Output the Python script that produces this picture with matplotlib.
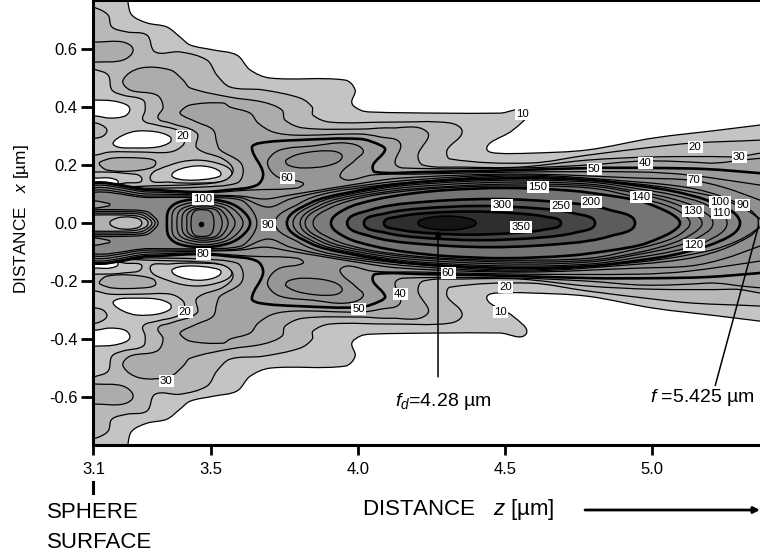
import numpy as np
import matplotlib
matplotlib.use('Agg')
import matplotlib.pyplot as plt
from matplotlib.path import Path
from matplotlib.patches import PathPatch

plt.rcParams['font.family'] = ['Liberation Sans', 'DejaVu Sans']
plt.rcParams['mathtext.fontset'] = 'custom'
plt.rcParams['mathtext.rm'] = 'Liberation Sans'
plt.rcParams['mathtext.it'] = 'Liberation Sans:italic'

# contours, (z, x) in um, upper half only (map is symmetric about x=0)
level_10 = [(3.0, .85), (3.21, .85), (3.218, .759), (3.231, .717), (3.282, .690), (3.350, .676), (3.395, .641),
            (3.429, .614), (3.507, .597), (3.588, .579), (3.633, .528), (3.701, .5), (3.956, .493), (3.990, .459),
            (3.979, .414), (4.007, .390), (4.041, .383), (4.279, .379), (4.483, .379), (4.571, .383), (4.527, .321),
            (4.449, .276), (4.439, .252), (4.473, .241), (4.585, .241), (4.779, .252), (5.003, .293), (5.231, .321),
            (5.367, .338), (5.47, .35)]
level_20 = [(3.05, .75), (3.109, .741), (3.150, .717), (3.163, .676), (3.214, .659), (3.282, .648), (3.310, .590),
            (3.395, .590), (3.486, .562), (3.520, .510), (3.565, .469), (3.677, .459), (3.803, .431), (3.844, .400),
            (3.847, .372), (3.905, .348), (4.109, .348), (4.313, .345), (4.354, .314), (4.303, .252), (4.313, .221),
            (4.585, .207), (4.779, .234), (5.003, .262), (5.139, .276), (5.367, .286), (5.47, .293)]
level_30 = [(3.05, .121), (3.109, .121), (3.29, .128), (3.463, .134), (3.548, .148), (3.575, .183), (3.541, .221),
            (3.452, .259), (3.452, .31), (3.361, .345), (3.320, .362), (3.337, .4), (3.316, .441), (3.224, .459),
            (3.201, .493), (3.259, .534), (3.361, .528), (3.405, .493), (3.429, .466), (3.565, .434), (3.677, .417),
            (3.741, .390), (3.752, .355), (3.813, .328), (4.007, .324), (4.109, .328), (4.235, .314), (4.204, .234),
            (4.221, .2), (4.357, .193), (4.551, .193), (4.779, .217), (5.003, .228), (5.275, .228), (5.469, .217)]
level_40 = [(3.05, .117), (3.29, .12), (3.463, .124), (3.588, .138), (3.609, .172), (3.599, .21), (3.531, .252),
            (3.520, .276), (3.507, .321), (3.452, .348), (3.401, .372), (3.395, .383), (3.429, .407), (3.541, .414),
            (3.565, .4), (3.633, .379), (3.660, .345), (3.711, .314), (3.793, .303), (4.007, .307), (4.075, .297),
            (4.143, .276), (4.126, .207), (4.153, .19), (4.551, .19), (4.779, .2), (4.976, .214), (5.187, .207),
            (5.469, .183)]
level_50 = [(3.05, .114), (3.29, .114), (3.463, .107), (3.554, .114), (3.656, .131), (3.677, .172), (3.639, .259),
            (3.667, .276), (3.793, .286), (4.007, .29), (4.075, .269), (4.092, .252), (4.051, .2), (4.058, .176),
            (4.221, .176), (4.551, .183), (4.799, .19), (5.003, .19), (5.187, .186), (5.367, .172), (5.47, .162)]
level_60 = [(3.05, .107), (3.29, .107), (3.463, .103), (3.633, .114), (3.793, .121), (3.813, .138), (3.735, .155),
            (3.701, .183), (3.694, .217), (3.735, .252), (3.847, .266), (3.956, .276), (4.017, .252), (3.990, .217),
            (3.939, .166), (3.966, .148), (4.051, .166), (4.221, .169), (4.551, .176), (4.959, .176), (5.122, .166),
            (5.367, .131), (5.47, .114)]
level_70 = [(3.05, .1), (3.29, .1), (3.463, .097), (3.599, .093), (3.684, .083), (3.769, .097), (3.871, .114),
            (3.973, .131), (4.143, .155), (4.551, .169), (4.959, .155), (5.129, .148), (5.241, .124), (5.367, .079),
            (5.47, .038)]
level_80 = [(3.05, .093), (3.29, .093), (3.463, .093), (3.599, .088), (3.694, .055), (3.769, .083), (3.871, .107),
            (3.973, .124), (4.177, .148), (4.551, .166), (4.959, .141), (5.129, .121), (5.241, .09), (5.333, .045),
            (5.36, .02), (5.38, 0)]
level_90_left = [(3.05, .086), (3.29, .088), (3.473, .088), (3.599, .08), (3.639, .045), (3.656, 0)]
level_90 = [(3.718, 0), (3.803, .069), (3.871, .097), (3.973, .117), (4.177, .141), (4.551, .162), (4.959, .134),
            (5.187, .097), (5.289, .062), (5.357, .02), (5.361, 0)]
level_100 = [(3.758, 0), (3.837, .069), (3.956, .103), (4.177, .138), (4.527, .155), (4.789, .148), (4.959, .128),
             (5.071, .110), (5.187, .079), (5.275, .038), (5.299, 0)]
level_110 = [(3.779, 0), (3.854, .066), (3.973, .100), (4.177, .131), (4.517, .148), (4.789, .141), (4.959, .117),
             (5.071, .097), (5.187, .062), (5.255, 0)]
level_120 = [(3.803, 0), (3.871, .062), (3.990, .097), (4.177, .124), (4.503, .141), (4.789, .134), (4.959, .107),
             (5.071, .083), (5.153, .052), (5.207, 0)]
level_130 = [(3.820, 0), (3.888, .059), (4.007, .093), (4.177, .117), (4.493, .134), (4.789, .128), (4.959, .1),
             (5.071, .069), (5.14, .035), (5.170, 0)]
level_140 = [(3.847, 0), (3.905, .052), (4.024, .090), (4.177, .112), (4.303, .122), (4.486, .128), (4.789, .121),
             (4.959, .086), (5.051, .060), (5.10, .035), (5.129, 0)]
level_150 = [(3.908, 0), (3.956, .048), (4.051, .079), (4.167, .100), (4.303, .114), (4.500, .121), (4.721, .112),
             (4.867, .093), (4.959, .076), (5.017, .055), (5.071, .028), (5.095, 0)]
level_200 = [(3.963, 0), (4.041, .045), (4.177, .069), (4.452, .083), (4.721, .069), (4.857, .045), (4.942, 0)]
level_250 = [(4.020, 0), (4.092, .033), (4.211, .050), (4.415, .059), (4.619, .05), (4.738, .033), (4.806, 0)]
level_300 = [(4.088, 0), (4.143, .023), (4.245, .035), (4.388, .040), (4.531, .034), (4.636, .022), (4.690, 0)]
level_350 = [(4.204, 0), (4.235, .017), (4.303, .024), (4.37, .017), (4.401, 0)]

# second maximum near z=3.47
lobe_100 = [(3.350, 0), (3.356, .045), (3.39, .072), (3.473, .083), (3.56, .07), (3.61, .04), (3.633, 0)]
lobe_110 = [(3.367, 0), (3.372, .042), (3.40, .062), (3.473, .075), (3.55, .062), (3.59, .035), (3.609, 0)]
lobe_120 = [(3.384, 0), (3.39, .038), (3.415, .056), (3.473, .066), (3.54, .055), (3.568, .03), (3.582, 0)]
lobe_130 = [(3.401, 0), (3.405, .032), (3.425, .05), (3.473, .059), (3.525, .05), (3.548, .028), (3.558, 0)]
lobe_140 = [(3.418, 0), (3.42, .03), (3.44, .047), (3.473, .052), (3.515, .046), (3.532, .026), (3.538, 0)]
lobe_150 = [(3.432, 0), (3.436, .03), (3.45, .044), (3.49, .044), (3.505, .03), (3.51, 0)]

# minimum at the left of the centre line
dip_90 = [(3.05, .046), (3.109, .046), (3.19, .046), (3.28, .04), (3.31, .018), (3.32, 0)]
dip_80 = [(3.05, .04), (3.109, .04), (3.19, .04), (3.27, .035), (3.30, .016), (3.31, 0)]
dip_70 = [(3.05, .034), (3.109, .034), (3.19, .034), (3.26, .03), (3.29, .014), (3.299, 0)]
dip_60 = [(3.05, .028), (3.109, .028), (3.19, .028), (3.25, .024), (3.28, .012), (3.286, 0)]
dip_50 = [(3.156, 0), (3.18, .017), (3.22, .021), (3.255, .014), (3.265, 0)]
notch_80 = [(3.07, .076), (3.109, .076), (3.14, .07), (3.156, .064), (3.14, .057), (3.109, .052), (3.07, .052)]

# closed loops away from the centre line, drawn above and below it
hole_big = [(3.07, .534), (3.109, .528), (3.150, .510), (3.163, .459), (3.201, .441), (3.269, .424), (3.276, .390),
            (3.269, .355), (3.316, .338), (3.384, .321), (3.408, .297), (3.405, .269), (3.361, .245), (3.259, .245),
            (3.156, .245), (3.105, .234), (3.07, .234), (3.05, .39)]
hole_edge = [(3.07, .172), (3.109, .176), (3.201, .172), (3.265, .152), (3.207, .138), (3.109, .124), (3.07, .124)]
hole_side = [(3.293, .155), (3.361, .2), (3.452, .217), (3.541, .2), (3.571, .172), (3.541, .145), (3.452, .138),
             (3.361, .141)]
lobe_edge = [(3.07, .345), (3.109, .345), (3.139, .331), (3.146, .317), (3.133, .300), (3.109, .293), (3.07, .293)]
white_a = [(3.07, .424), (3.109, .424), (3.167, .421), (3.214, .407), (3.224, .390), (3.207, .369), (3.156, .362),
           (3.109, .369), (3.07, .369)]
white_b = [(3.167, .276), (3.201, .303), (3.248, .317), (3.316, .314), (3.361, .297), (3.361, .279), (3.316, .262),
           (3.235, .259), (3.184, .262)]
white_c = [(3.07, .155), (3.109, .155), (3.156, .155), (3.184, .141), (3.156, .131), (3.109, .128), (3.07, .128)]
white_d = [(3.367, .166), (3.395, .186), (3.452, .197), (3.507, .190), (3.534, .169), (3.507, .155), (3.439, .148),
           (3.388, .152)]
island_top = [(3.08, .624), (3.109, .624), (3.201, .624), (3.235, .597), (3.201, .562), (3.109, .555), (3.08, .555)]
island_mid = [(3.122, .210), (3.167, .224), (3.259, .224), (3.310, .214), (3.303, .193), (3.224, .179), (3.146, .183),
              (3.122, .2)]
island_70 = [(3.755, .217), (3.813, .241), (3.915, .248), (3.946, .228), (3.905, .2), (3.813, .19), (3.762, .2)]

labels_z = [4.558, 3.405, 3.759, 3.473, 3.694, 3.473, 4.612, 4.803, 4.976, 5.146, 5.296, 5.143, 4.490, 4.690, 4.793,
            4.962, 5.139, 5.231, 5.234, 5.309, 5.143, 4.554, 4.306, 4.003, 4.143, 4.503, 4.483, 3.412, 3.347]
labels_x = [.376, .300, .155, .083, -.007, -.107, .124, .186, .207, .262, .228, .148, .062, .059, .072,
            .090, .041, .072, .034, .062, -.076, -.014, -.172, -.297, -.245, -.221, -.307, -.307, -.545]
labels_txt = ['10', '20', '60', '100', '90', '80', '150', '50', '40', '20', '30', '70', '300', '250', '200',
              '140', '130', '100', '110', '90', '120', '350', '60', '50', '40', '20', '10', '20', '30']

z_ticks = [3.1, 3.5, 4.0, 4.5, 5.0]
x_ticks = [-0.6, -0.4, -0.2, 0.0, 0.2, 0.4, 0.6]


def smooth(pts):
    # closed bezier path through the read points
    p = np.array(pts, dtype=float)
    n = len(p)
    t = np.roll(p, -1, 0) - np.roll(p, 1, 0)
    t /= np.linalg.norm(t, axis=1)[:, None]
    verts = [p[0]]
    codes = [Path.MOVETO]
    for i in range(n):
        j = (i + 1) % n
        d = np.linalg.norm(p[j] - p[i])
        verts += [p[i] + t[i] * d / 3, p[j] - t[j] * d / 3, p[j]]
        codes += [Path.CURVE4] * 3
    return Path(verts, codes)


def mirror(upper):
    return upper + [(z, -x) for z, x in reversed(upper) if x > 0]


def flip(loop):
    return [(z, -x) for z, x in loop]


def fill(ax, pts, color, lw=0.9):
    ax.add_patch(PathPatch(smooth(pts), facecolor=color, edgecolor='black', linewidth=lw, joinstyle='round'))


fig = plt.figure(figsize=(7.6, 5.56), dpi=100)
ax = fig.add_axes([93.4 / 760, 1 - 445 / 556, 1 - 93.4 / 760, 445 / 556])
ax.set_xlim(3.1, 5.367)
ax.set_ylim(-0.765, 0.769)

thick = 1.9
fill(ax, mirror(level_10), '#c4c4c4')
fill(ax, mirror(level_20), '#b8b8b8')
for loop in [hole_big, hole_edge, hole_side]:
    fill(ax, loop, '#c4c4c4')
    fill(ax, flip(loop), '#c4c4c4')
for loop in [lobe_edge]:
    fill(ax, loop, '#b8b8b8')
    fill(ax, flip(loop), '#b8b8b8')
for loop in [white_a, white_b, white_c, white_d]:
    fill(ax, loop, 'white')
    fill(ax, flip(loop), 'white')
fill(ax, mirror(level_30), '#acacac')
for loop in [island_top, island_mid]:
    fill(ax, loop, '#acacac')
    fill(ax, flip(loop), '#acacac')
fill(ax, mirror(level_40), '#a4a4a4')
fill(ax, mirror(level_50), '#9c9c9c', thick)
fill(ax, mirror(level_60), '#969696')
fill(ax, island_70, '#909090')
fill(ax, flip(island_70), '#909090')
fill(ax, mirror(level_70), '#909090')
fill(ax, mirror(level_80), '#8c8c8c')
fill(ax, mirror(level_90_left), '#888888')
fill(ax, mirror(level_90), '#888888')
fill(ax, mirror(level_100), '#848484', thick)
fill(ax, mirror(level_110), '#828282')
fill(ax, mirror(level_120), '#808080')
fill(ax, mirror(level_130), '#7e7e7e')
fill(ax, mirror(level_140), '#7c7c7c')
fill(ax, mirror(level_150), '#747474', thick)
fill(ax, mirror(level_200), '#5c5c5c', thick)
fill(ax, mirror(level_250), '#464646', thick)
fill(ax, mirror(level_300), '#2e2e2e', thick)
fill(ax, mirror(level_350), '#151515', 1.2)

fill(ax, mirror(lobe_100), '#888888', thick)
fill(ax, mirror(lobe_110), '#868686')
fill(ax, mirror(lobe_120), '#848484')
fill(ax, mirror(lobe_130), '#828282')
fill(ax, mirror(lobe_140), '#808080')
fill(ax, mirror(lobe_150), '#7c7c7c')
ax.plot([3.466], [-0.003], 'o', color='black', ms=3)

fill(ax, mirror(dip_90), '#8c8c8c')
fill(ax, mirror(dip_80), '#969696')
fill(ax, mirror(dip_70), '#a4a4a4')
fill(ax, mirror(dip_60), '#b0b0b0')
fill(ax, mirror(dip_50), '#bcbcbc')
fill(ax, notch_80, '#a0a0a0')
fill(ax, flip(notch_80), '#a0a0a0')

for z, x, txt in zip(labels_z, labels_x, labels_txt):
    ax.text(z, x, txt, fontsize=8.2, ha='center', va='center', zorder=5,
            bbox=dict(facecolor='white', edgecolor='none', pad=0.8))

ax.set_xticks(z_ticks)
ax.set_xticklabels(['%.1f' % v for v in z_ticks])
ax.set_yticks(x_ticks)
ax.set_yticklabels(['%.1f' % v for v in x_ticks])
ax.tick_params(axis='x', direction='out', length=7.5, width=2, labelsize=12, pad=5)
ax.tick_params(axis='y', direction='out', length=8.5, width=2, labelsize=12, pad=3)
ax.spines['right'].set_visible(False)
for side in ['left', 'top', 'bottom']:
    ax.spines[side].set_linewidth(2.2)
    ax.spines[side].set_zorder(6)

# focus markers
ax.annotate('', xy=(4.272, -0.025), xytext=(4.272, -0.53),
            arrowprops=dict(arrowstyle='-|>', color='black', lw=1.1, mutation_scale=9, shrinkA=0, shrinkB=0), zorder=5)
ax.plot([5.215, 5.362], [-0.559, -0.01], color='black', lw=1.1, zorder=5)

fig.text(395 / 760, 1 - 402 / 556, r'$f_d$=4.28 µm', fontsize=14, va='center')
fig.text(650 / 760, 1 - 398 / 556, r'$f$ =5.425 µm', fontsize=14, va='center')
fig.text(22 / 760, 1 - 219 / 556, r'DISTANCE   $x$ [µm]', fontsize=12.4, rotation=90, ha='center', va='center')
fig.text(47 / 760, 1 - 512 / 556, 'SPHERE', fontsize=16, va='center')
fig.text(47 / 760, 1 - 543 / 556, 'SURFACE', fontsize=16, va='center')
fig.text(362 / 760, 1 - 509 / 556, r'DISTANCE   $z$ [µm]', fontsize=16, va='center')

fig.add_artist(plt.Line2D([93.4 / 760, 93.4 / 760], [1 - 482 / 556, 1 - 493 / 556], color='black', lw=2.2))
ax.annotate('', xy=(760 / 760, 1 - 510 / 556), xytext=(585 / 760, 1 - 510 / 556), xycoords='figure fraction',
            textcoords='figure fraction', annotation_clip=False,
            arrowprops=dict(arrowstyle='-|>', color='black', lw=2, mutation_scale=9, shrinkA=0, shrinkB=0))

plt.savefig('out.png', dpi=100)
